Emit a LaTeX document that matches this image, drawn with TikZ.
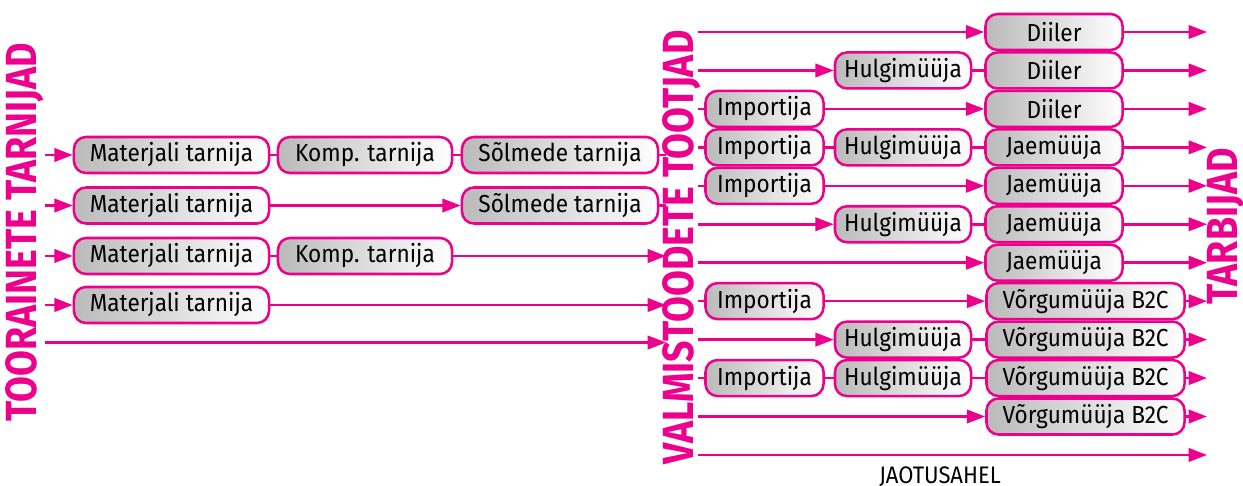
\documentclass[tikz,border=0pt]{standalone}
\usepackage{fontspec}
\setmainfont{Fira Sans}[FakeStretch=0.92]
\newfontfamily\titlefont{Fira Sans}[FakeStretch=0.86]
\usetikzlibrary{arrows.meta}
\definecolor{chain}{RGB}{236,0,140}

\begin{document}
\begin{tikzpicture}[x=0.025cm, y=-0.025cm, line width=1.8pt,
    link/.style={draw=chain},
    flow/.style={draw=chain, -{Triangle[length=13pt,width=9.5pt]}},
    chainbox/.style={draw=chain, line width=1.8pt, rounded corners=0.3cm,
        left color=black!27, right color=white, text=black, inner sep=0pt,
        minimum height=0.9cm, font=\fontsize{17.5}{20}\selectfont},
    material/.style={chainbox, minimum width=4.875cm},
    component/.style={chainbox, minimum width=4.35cm},
    assembly/.style={chainbox, minimum width=4.9cm},
    importer/.style={chainbox, minimum width=2.95cm},
    wholesale/.style={chainbox, minimum width=3.4cm},
    shop/.style={chainbox, minimum width=3.425cm},
    webshop/.style={chainbox, minimum width=4.95cm},
    heading/.style={text=chain, rotate=90, inner sep=0pt,
        font=\titlefont\bfseries\fontsize{31}{34}\selectfont}]
    \useasboundingbox (0, 0) rectangle (1243, 486);
    \def\rowR#1{32+38.45*(#1-1)}

    \node[heading] (supp) at (25, 232) {TOORAINETE TARNIJAD};
    \node[heading] (prod) at (681.5, 247.5) {VALMISTOODETE TOOTJAD};
    \node[heading] (cons) at (1226, 226.5) {TARBIJAD};
    \node[font=\fontsize{17}{19}\selectfont, inner sep=0pt] (chan) at (940, 477) {JAOTUSAHEL};

    \foreach \i/\y in {1/155, 2/205.5, 3/256, 4/305, 5/342.5}{%
        \coordinate (a\i) at (45, \y);
        \coordinate (e\i) at (666, \y);
    }
    \foreach \i in {1,...,12}{%
        \coordinate (b\i) at (698, {\rowR{\i}});
        \coordinate (o\i) at (1207, {\rowR{\i}});
    }

    \node[material] (m1) at (171.5, 155) {Materjali tarnija};
    \node[material] (m2) at (171.5, 205.5) {Materjali tarnija};
    \node[material] (m3) at (171.5, 256) {Materjali tarnija};
    \node[material] (m4) at (171.5, 305) {Materjali tarnija};
    \node[component] (k1) at (365, 155) {Komp. tarnija};
    \node[component] (k3) at (365, 256) {Komp. tarnija};
    \node[assembly] (s1) at (560, 155) {Sõlmede tarnija};
    \node[assembly] (s2) at (560, 205.5) {Sõlmede tarnija};

    \foreach \i/\t in {1/Diiler, 2/Diiler, 3/Diiler, 4/Jaemüüja, 5/Jaemüüja,
        6/Jaemüüja, 7/Jaemüüja}
        \node[shop] (r\i) at (1054, {\rowR{\i}}) {\t};
    \foreach \i in {8,...,11}
        \node[webshop] (r\i) at (1085.5, {\rowR{\i}}) {Võrgumüüja B2C};
    \foreach \i in {3, 4, 5, 8, 10}
        \node[importer] (i\i) at (764.5, {\rowR{\i}}) {Importija};
    \foreach \i in {2, 4, 6, 9, 10}
        \node[wholesale] (h\i) at (903, {\rowR{\i}}) {Hulgimüüja};

    \foreach \i in {1,...,4}
        \draw[flow] (a\i) -- (m\i);
    \draw[link] (m1) -- (k1);
    \draw[link] (k1) -- (s1);
    \draw[link] (s1) -- (e1);
    \draw[flow] (m2) -- (s2);
    \draw[link] (s2) -- (e2);
    \draw[link] (m3) -- (k3);
    \draw[flow] (k3) -- (e3);
    \draw[flow] (m4) -- (e4);
    \draw[flow] (a5) -- (e5);

    \draw[flow] (b1) -- (r1);
    \draw[flow] (b2) -- (h2);
    \draw[link] (h2) -- (r2);
    \draw[link] (b3) -- (i3);
    \draw[flow] (i3) -- (r3);
    \draw[link] (b4) -- (i4);
    \draw[link] (i4) -- (h4);
    \draw[link] (h4) -- (r4);
    \draw[link] (b5) -- (i5);
    \draw[flow] (i5) -- (r5);
    \draw[flow] (b6) -- (h6);
    \draw[link] (h6) -- (r6);
    \draw[flow] (b7) -- (r7);
    \draw[link] (b8) -- (i8);
    \draw[flow] (i8) -- (r8);
    \draw[flow] (b9) -- (h9);
    \draw[link] (h9) -- (r9);
    \draw[link] (b10) -- (i10);
    \draw[link] (i10) -- (h10);
    \draw[link] (h10) -- (r10);
    \draw[flow] (b11) -- (r11);
    \draw[flow] (b12) -- (o12);

    \foreach \i in {1,...,11}
        \draw[flow] (r\i) -- (o\i);
\end{tikzpicture}
\end{document}
